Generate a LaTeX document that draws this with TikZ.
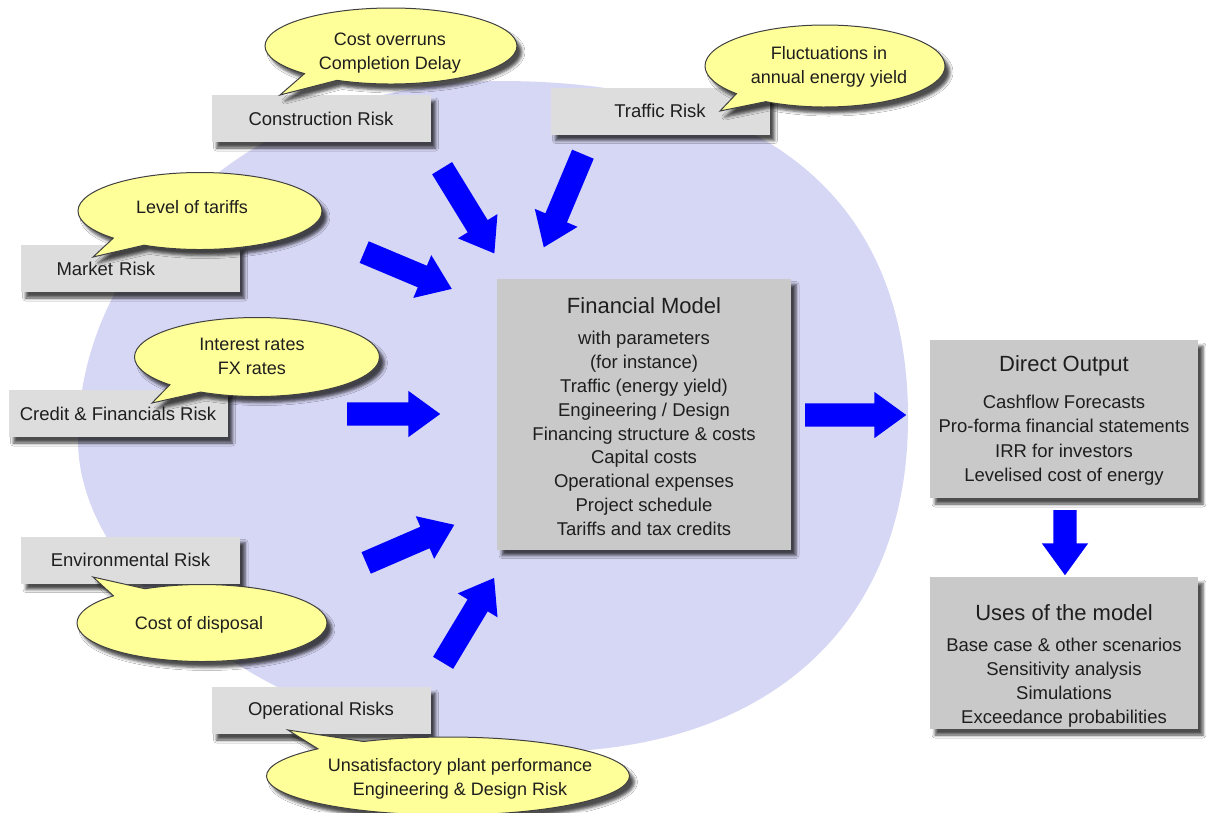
\documentclass[tikz,border=0pt]{standalone}
\usepackage{fontspec}
\setmainfont{Liberation Sans}
\usetikzlibrary{shapes.callouts,shapes.arrows,shadows.blur}

\definecolor{lavender}{RGB}{214,214,245}
\definecolor{riskgray}{RGB}{221,221,221}
\definecolor{modelgray}{RGB}{201,201,201}
\definecolor{noteyellow}{RGB}{255,255,153}
\definecolor{flowblue}{RGB}{0,0,255}
\definecolor{ink}{RGB}{30,30,30}

\tikzset{
  boxshadow/.style={blur shadow={shadow xshift=5pt, shadow yshift=-6pt,
      shadow blur radius=3pt, shadow opacity=70}},
  riskbox/.style={rectangle, fill=riskgray, minimum width=219pt,
      minimum height=47pt, inner sep=0pt, boxshadow, text=ink,
      font=\fontsize{18.5}{22}\selectfont},
  modelbox/.style={rectangle, fill=modelgray, inner sep=0pt, boxshadow},
  modeltext/.style={align=center, inner sep=0pt, anchor=north, text=ink,
      font=\fontsize{18.5}{23.8}\selectfont},
  note/.style={ellipse callout, fill=noteyellow, draw=black!75,
      line width=1pt, inner sep=0pt, callout pointer arc=18, boxshadow},
  notetext/.style={align=center, inner sep=0pt, text=ink,
      font=\fontsize{18}{24}\selectfont},
  flow/.style={single arrow, fill=flowblue, draw=none, inner xsep=0pt,
      inner ysep=11.5pt, single arrow head extend=11.5pt,
      single arrow tip angle=72, single arrow head indent=0pt, anchor=tail},
}

\begin{document}
\begin{tikzpicture}[x=1pt,y=-1pt]
  \useasboundingbox (0,0) rectangle (1206,812);
  \fill[white] (0,0) rectangle (1206,812);

  % background field behind the risks and the model, one Bezier per quadrant
  \fill[lavender] (500,81)
      .. controls (765.2,81) and (908,198.9) .. (908,418)
      .. controls (908,625.1) and (768.2,752) .. (540,752)
      .. controls (309,752) and (78,596) .. (78,440)
      .. controls (78,241.7) and (267,81) .. cycle;

  % flows into the model and on to its outputs
  \node[flow, minimum height=100pt, rotate=-58.5] (fc) at (442,168) {};
  \node[flow, minimum height=101pt, rotate=-112.8] (ft) at (583,154) {};
  \node[flow, minimum height=95pt, rotate=-22.8] (fmk) at (364,252) {};
  \node[flow, minimum height=93pt, rotate=0] (fcr) at (347,414) {};
  \node[flow, minimum height=96pt, rotate=23.4] (fen) at (366,563) {};
  \node[flow, minimum height=99pt, rotate=59] (fop) at (443,663) {};
  \node[flow, minimum height=101pt, rotate=0] (fout) at (805,415) {};
  \node[flow, minimum height=65pt, rotate=-90] (fuse) at (1065,510) {};

  % risk boxes
  \node[riskbox] (cr) at (321,118.5) {Construction Risk};
  \node[riskbox] (tr) at (660,111) {Traffic Risk};
  \node[riskbox, text width=147pt, inner xsep=36pt, align=left] (mr) at (130,268.5) {Market Risk};
  \node[riskbox] (fr) at (118,413.5) {Credit \& Financials Risk};
  \node[riskbox] (er) at (130.5,560) {Environmental Risk};
  \node[riskbox] (opr) at (321,710.5) {Operational Risks};

  % model, output and uses
  \node[modelbox, minimum width=294pt, minimum height=271pt] (fm) at (644,414) {};
  \node[modelbox, minimum width=268pt, minimum height=158pt] (dout) at (1064,419) {};
  \node[modelbox, minimum width=268pt, minimum height=152pt] (uses) at (1064,653) {};

  \node[modeltext] (fmt) at (644,297) {{\fontsize{22}{26}\selectfont Financial Model}\\[8pt]
    with parameters\\ (for instance)\\ Traffic (energy yield)\\ Engineering / Design\\
    Financing structure \& costs\\ Capital costs\\ Operational expenses\\
    Project schedule\\ Tariffs and tax credits};
  \node[modeltext, font=\fontsize{18.5}{24.3}\selectfont] (doutt) at (1064,355) {{\fontsize{22}{26}\selectfont Direct Output}\\[13pt]
    Cashflow Forecasts\\ Pro-forma financial statements\\ IRR for investors\\
    Levelised cost of energy};
  \node[modeltext, font=\fontsize{18.5}{24}\selectfont] (usest) at (1064,604) {{\fontsize{22}{26}\selectfont Uses of the model}\\[7pt]
    Base case \& other scenarios\\ Sensitivity analysis\\ Simulations\\
    Exceedance probabilities};

  % callouts naming the drivers of each risk
  \node[note, minimum width=252pt, minimum height=76pt,
        callout absolute pointer={(280,95)}] (n1) at (391,46) {};
  \node[notetext] (n1t) at (390,53) {Cost overruns\\Completion Delay};

  \node[note, minimum width=240pt, minimum height=82pt,
        callout absolute pointer={(720,111)}] (n2) at (825,66) {};
  \node[notetext] (n2t) at (829,67) {Fluctuations in\\annual energy yield};

  \node[note, minimum width=244pt, minimum height=77pt,
        callout absolute pointer={(93,257)}] (n3) at (200,211) {};
  \node[notetext] (n3t) at (192,207) {Level of tariffs};

  \node[note, minimum width=245pt, minimum height=79pt,
        callout absolute pointer={(152,403)}] (n4) at (257,357) {};
  \node[notetext] (n4t) at (252,356) {Interest rates\\FX rates};

  \node[note, minimum width=250pt, minimum height=77pt,
        callout absolute pointer={(93,577)}] (n5) at (202,623) {};
  \node[notetext] (n5t) at (199,625) {Cost of disposal};

  \node[note, minimum width=363pt, minimum height=78pt,
        callout absolute pointer={(288,730)}] (n6) at (448,776) {};
  \node[notetext] (n6t) at (460,779) {Unsatisfactory plant performance\\Engineering \& Design Risk};
\end{tikzpicture}
\end{document}
